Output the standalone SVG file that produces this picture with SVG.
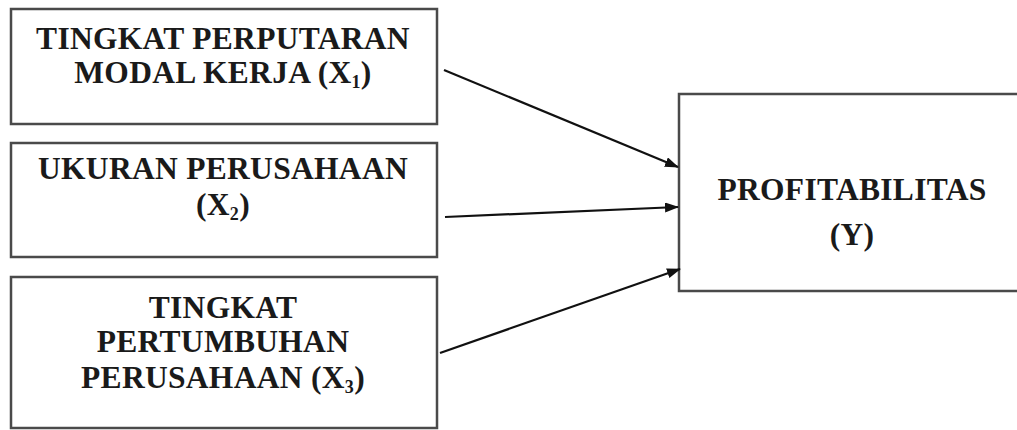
<svg xmlns="http://www.w3.org/2000/svg" width="1017" height="430" viewBox="0 0 1017 430">
<style>
.box{fill:#fff;stroke:#4a4a4a;stroke-width:2.5}
.t{font-family:"Liberation Serif","Times New Roman",serif;font-weight:bold;font-size:31.5px;fill:#1a1a1a;text-anchor:middle;letter-spacing:0.3px}
.sub{font-size:18px}
.c{stroke:#111;stroke-width:2.2;fill:none;marker-end:url(#ah)}
</style>
<defs>
<marker id="ah" viewBox="0 0 14 10" refX="13" refY="5" markerWidth="14" markerHeight="10" markerUnits="userSpaceOnUse" orient="auto">
<path d="M0,0 L14,5 L0,10 Z" fill="#111"/>
</marker>
</defs>
<rect width="1017" height="430" fill="#fff"/>
<g id="x1">
<rect class="box" x="11" y="9" width="426" height="115"/>
<text class="t" x="223" y="49">TINGKAT PERPUTARAN</text>
<text class="t" x="223" y="83">MODAL KERJA (X<tspan class="sub" dy="5">1</tspan><tspan dy="-5">)</tspan></text>
</g>
<g id="x2">
<rect class="box" x="11" y="143" width="426" height="114"/>
<text class="t" x="223" y="179">UKURAN PERUSAHAAN</text>
<text class="t" x="223" y="215">(X<tspan class="sub" dy="5">2</tspan><tspan dy="-5">)</tspan></text>
</g>
<g id="x3">
<rect class="box" x="11" y="277" width="426" height="151"/>
<text class="t" x="223" y="318">TINGKAT</text>
<text class="t" x="223" y="352">PERTUMBUHAN</text>
<text class="t" x="223" y="388">PERUSAHAAN (X<tspan class="sub" dy="5">3</tspan><tspan dy="-5">)</tspan></text>
</g>
<g id="y">
<rect class="box" x="679" y="94" width="345" height="197"/>
<text class="t" x="852" y="200">PROFITABILITAS</text>
<text class="t" x="852" y="245">(Y)</text>
</g>
<g id="connectors">
<line class="c" x1="444" y1="70" x2="678" y2="167"/>
<line class="c" x1="445" y1="217" x2="678" y2="207"/>
<line class="c" x1="440" y1="353" x2="680" y2="269"/>
</g>
</svg>
